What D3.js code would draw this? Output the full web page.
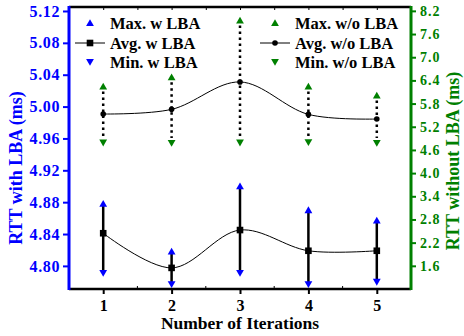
<!DOCTYPE html>
<html lang="en">
<head>
  <meta charset="UTF-8">
  <title>RTT with and without LBA</title>
  <style>
    body, html { margin: 0; padding: 0; background: #fff; }
    svg text { font-family: 'Liberation Serif', 'Times New Roman', serif; font-weight: bold; }
  </style>
</head>
<body>
  <svg id="svg" width="464" height="336"></svg>

  <script src="https://d3js.org/d3.v7.min.js"></script>
  <script>
    // iterations
    const iterations = [1, 2, 3, 4, 5]

    // with LBA (left axis, ms)
    const maxW = [4.878, 4.818, 4.900, 4.870, 4.857]
    const avgW = [4.841, 4.7975, 4.845, 4.819, 4.819]
    const minW = [4.791, 4.777, 4.791, 4.777, 4.780]

    // without LBA (right axis, ms)
    const maxWo = [6.24, 6.48, 7.95, 6.24, 6.01]
    const avgWo = [5.53, 5.65, 6.36, 5.52, 5.40]
    const minWo = [4.79, 4.78, 4.79, 4.80, 4.78]

    const leftTicks = [4.80, 4.84, 4.88, 4.92, 4.96, 5.00, 5.04, 5.08, 5.12]
    const rightTicks = [1.6, 2.2, 2.8, 3.4, 4.0, 4.6, 5.2, 5.8, 6.4, 7.0, 7.6, 8.2]

    const blue = '#0000ff'
    const green = '#008000'

    const pLeft = 69, pRight = 411, pTop = 7, pBottom = 289

    const svg = d3.select('#svg')

    const x = d3.scaleLinear().domain([0.5, 5.5]).range([pLeft, pRight])
    const yL = d3.scaleLinear().domain([4.771, 5.125]).range([pBottom, pTop])
    const yR = d3.scaleLinear().domain([1.0, 8.3]).range([pBottom, pTop])

    const upTri = 'M0,-3.8L3.9,3L-3.9,3Z'
    const downTri = 'M0,3.8L3.9,-3L-3.9,-3Z'

    // ---- axes ----
    // bottom
    const xAxis = svg.append('g')
      .attr('transform', `translate(0, ${pBottom})`)
      .call(d3.axisBottom(x).tickValues(iterations).tickFormat(d3.format('d')).tickSize(5).tickPadding(6))
    xAxis.select('.domain').attr('stroke-width', 2.5).attr('d', `M${pLeft},0H${pRight}`)
    xAxis.selectAll('.tick line').attr('stroke-width', 2)
    xAxis.selectAll('text').attr('font-size', 16).attr('fill', 'black')
      .style('font-family', "'Liberation Serif', serif").style('font-weight', 'bold')
    // minor ticks on bottom
    svg.append('g').selectAll('line')
      .data([1.5, 2.5, 3.5, 4.5])
      .join('line')
      .attr('x1', d => x(d)).attr('x2', d => x(d))
      .attr('y1', pBottom).attr('y2', pBottom - 3)
      .attr('stroke', 'black').attr('stroke-width', 1)

    // top
    const xTop = svg.append('g')
      .attr('transform', `translate(0, ${pTop})`)
      .call(d3.axisTop(x).tickValues([1, 1.5, 2, 2.5, 3, 3.5, 4, 4.5, 5]).tickFormat('').tickSizeInner(-3).tickSizeOuter(0))
    xTop.select('.domain').attr('stroke-width', 2.5).attr('d', `M${pLeft},0H${pRight}`)
    xTop.selectAll('.tick line').attr('stroke-width', 1)

    // left
    const yAxisL = svg.append('g')
      .attr('transform', `translate(${pLeft}, 0)`)
      .call(d3.axisLeft(yL).tickValues(leftTicks).tickFormat(d3.format('.2f')).tickSizeInner(6).tickSizeOuter(0).tickPadding(3))
    yAxisL.select('.domain').attr('stroke', blue).attr('stroke-width', 3).attr('d', `M0,${pTop - 1}V${pBottom + 1}`)
    yAxisL.selectAll('.tick line').attr('stroke', blue).attr('stroke-width', 2)
    yAxisL.selectAll('text').attr('font-size', 16).attr('fill', blue)
      .style('font-family', "'Liberation Serif', serif").style('font-weight', 'bold')
      .style('letter-spacing', '0.6px')

    // right
    const yAxisR = svg.append('g')
      .attr('transform', `translate(${pRight}, 0)`)
      .call(d3.axisRight(yR).tickValues(rightTicks).tickFormat(d3.format('.1f')).tickSizeInner(5).tickSizeOuter(0).tickPadding(4))
    yAxisR.select('.domain').attr('stroke', green).attr('stroke-width', 3).attr('d', `M0,${pTop - 1}V${pBottom + 1}`)
    yAxisR.selectAll('.tick line').attr('stroke', green).attr('stroke-width', 2)
    yAxisR.selectAll('text').attr('font-size', 14).attr('fill', green)
      .style('font-family', "'Liberation Serif', serif").style('font-weight', 'bold')
      .style('letter-spacing', '1px')

    // axis titles
    svg.append('text')
      .text('RTT with LBA (ms)')
      .attr('transform', `translate(22, ${(pTop + pBottom) / 2 + 20}) rotate(-90)`)
      .attr('text-anchor', 'middle')
      .attr('font-size', 18)
      .attr('fill', blue)

    svg.append('text')
      .text('RTT without LBA (ms)')
      .attr('transform', `translate(459, ${(pTop + pBottom) / 2 + 13}) rotate(-90)`)
      .attr('text-anchor', 'middle')
      .attr('font-size', 18)
      .attr('fill', green)

    svg.append('text')
      .text('Number of Iterations')
      .attr('x', x(3))
      .attr('y', 329)
      .attr('text-anchor', 'middle')
      .attr('font-size', 17.5)
      .attr('fill', 'black')

    // ---- without LBA: dotted range lines ----
    svg.append('g').selectAll('line')
      .data(iterations)
      .join('line')
      .attr('x1', d => x(d)).attr('x2', d => x(d))
      .attr('y1', (d, i) => yR(maxWo[i]) + 5)
      .attr('y2', (d, i) => yR(minWo[i]) - 5)
      .attr('stroke', 'black')
      .attr('stroke-width', 2.5)
      .attr('stroke-dasharray', '2.5,3.5')

    svg.append('path')
      .datum(iterations)
      .attr('fill', 'none')
      .attr('stroke', 'black')
      .attr('stroke-width', 1)
      .attr('d', d3.line().curve(d3.curveCatmullRom).x(d => x(d)).y((d, i) => yR(avgWo[i])))

    svg.append('g').selectAll('path')
      .data(iterations)
      .join('path')
      .attr('d', upTri)
      .attr('transform', (d, i) => `translate(${x(d)}, ${yR(maxWo[i])})`)
      .attr('fill', green)

    svg.append('g').selectAll('path')
      .data(iterations)
      .join('path')
      .attr('d', downTri)
      .attr('transform', (d, i) => `translate(${x(d)}, ${yR(minWo[i])})`)
      .attr('fill', green)

    svg.append('g').selectAll('circle')
      .data(iterations)
      .join('circle')
      .attr('cx', d => x(d))
      .attr('cy', (d, i) => yR(avgWo[i]))
      .attr('r', 2.8)
      .attr('fill', 'black')

    // ---- with LBA: solid range lines ----
    svg.append('g').selectAll('line')
      .data(iterations)
      .join('line')
      .attr('x1', d => x(d)).attr('x2', d => x(d))
      .attr('y1', (d, i) => yL(maxW[i]))
      .attr('y2', (d, i) => yL(minW[i]))
      .attr('stroke', 'black')
      .attr('stroke-width', 2.5)

    svg.append('path')
      .datum(iterations)
      .attr('fill', 'none')
      .attr('stroke', 'black')
      .attr('stroke-width', 1)
      .attr('d', d3.line().curve(d3.curveCatmullRom).x(d => x(d)).y((d, i) => yL(avgW[i])))

    svg.append('g').selectAll('path')
      .data(iterations)
      .join('path')
      .attr('d', upTri)
      .attr('transform', (d, i) => `translate(${x(d)}, ${yL(maxW[i])})`)
      .attr('fill', blue)

    svg.append('g').selectAll('path')
      .data(iterations)
      .join('path')
      .attr('d', downTri)
      .attr('transform', (d, i) => `translate(${x(d)}, ${yL(minW[i])})`)
      .attr('fill', blue)

    svg.append('g').selectAll('rect')
      .data(iterations)
      .join('rect')
      .attr('x', d => x(d) - 3.3)
      .attr('y', (d, i) => yL(avgW[i]) - 3.3)
      .attr('width', 6.6)
      .attr('height', 6.6)
      .attr('fill', 'black')

    // ---- legend ----
    const legendItems = [
      { label: 'Max. w LBA', kind: 'up', color: blue, mx: 90, my: 23 },
      { label: 'Avg. w LBA', kind: 'square', color: 'black', mx: 90, my: 43 },
      { label: 'Min. w LBA', kind: 'down', color: blue, mx: 90, my: 62 },
      { label: 'Max. w/o LBA', kind: 'up', color: green, mx: 275, my: 23 },
      { label: 'Avg. w/o LBA', kind: 'circle', color: 'black', mx: 275, my: 43 },
      { label: 'Min. w/o LBA', kind: 'down', color: green, mx: 275, my: 62 }
    ]

    const legend = svg.append('g').selectAll('g')
      .data(legendItems)
      .join('g')
      .attr('transform', d => `translate(${d.mx}, ${d.my})`)

    legend.each(function (d) {
      const g = d3.select(this)
      if (d.kind === 'up' || d.kind === 'down') {
        g.append('path').attr('d', d.kind === 'up' ? upTri : downTri).attr('fill', d.color)
      } else {
        g.append('line').attr('x1', -15).attr('x2', 15).attr('stroke', 'black').attr('stroke-width', 1)
        if (d.kind === 'square') {
          g.append('rect').attr('x', -3.3).attr('y', -3.3).attr('width', 6.6).attr('height', 6.6).attr('fill', 'black')
        } else {
          g.append('circle').attr('r', 2.8).attr('fill', 'black')
        }
      }
      g.append('text')
        .text(d.label)
        .attr('x', 20)
        .attr('y', 5.5)
        .attr('font-size', 16.5)
        .attr('fill', 'black')
    })
  </script>
</body>
</html>
